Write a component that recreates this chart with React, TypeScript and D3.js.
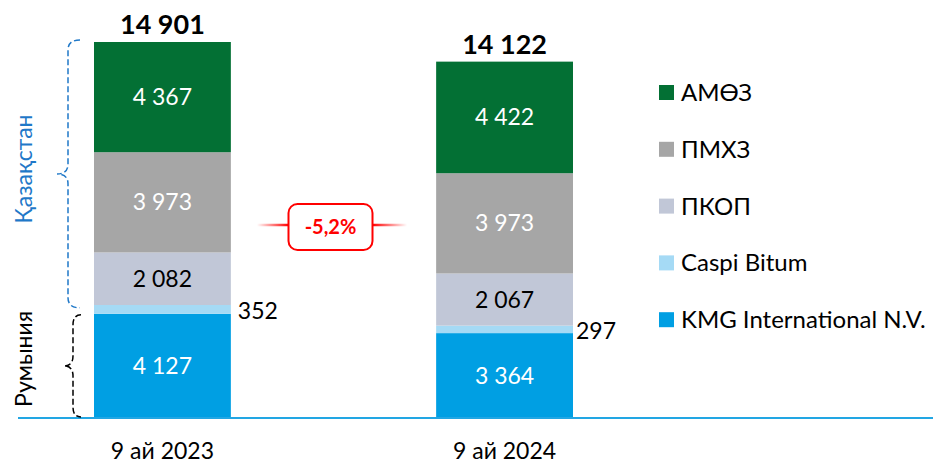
import * as d3 from "d3";

const periods = ["9 ай 2023", "9 ай 2024"];
const seriesNames = ["KMG International N.V.", "Caspi Bitum", "ПКОП", "ПМХЗ", "АМӨЗ"];
const seriesColors = ["#009fe3", "#a5daf5", "#c1c7d7", "#a6a6a6", "#037034"];
const kmgValues = [4127, 3364];
const caspiValues = [352, 297];
const pkopValues = [2082, 2067];
const pmhzValues = [3973, 3973];
const amozValues = [4367, 4422];
const totalValues = [14901, 14122];
const changeLabel = "-5,2%";

const W = 933;
const H = 465;
const baseY = 418;
const FONT = "Lato, 'Noto Sans', sans-serif";

const fmt = (v: number) => d3.format(",")(v).replace(/,/g, " ");

function brace(xEnd: number, xv: number, xTip: number, y0: number, y1: number) {
  const r = 10;
  const ym = (y0 + y1) / 2;
  return `M${xEnd},${y0} Q${xv},${y0} ${xv},${y0 + r} L${xv},${ym - r} Q${xv},${ym} ${xTip},${ym} Q${xv},${ym} ${xv},${ym + r} L${xv},${y1 - r} Q${xv},${y1} ${xEnd},${y1}`;
}

export default function App() {
  const rows = periods.map((p, i) => ({
    period: p,
    [seriesNames[0]]: kmgValues[i],
    [seriesNames[1]]: caspiValues[i],
    [seriesNames[2]]: pkopValues[i],
    [seriesNames[3]]: pmhzValues[i],
    [seriesNames[4]]: amozValues[i],
  }));
  const stacked = d3.stack<any>().keys(seriesNames)(rows);
  const tops = rows.map((_, i) => stacked[stacked.length - 1][i][1]);

  const x = d3.scaleBand().domain(periods).range([94, 573]).paddingInner(0.6).paddingOuter(0);
  const y = d3.scaleLinear().domain([0, d3.max(tops) as number]).range([baseY, 42]);
  const bw = x.bandwidth();

  const x1 = (x(periods[0]) as number) + bw;
  const x2 = x(periods[1]) as number;
  const midX = (x1 + x2) / 2 - 3;
  const badgeY = 227;

  // brace extents from the first bar
  const kzTop = y(tops[0]) - 2;
  const kzBottom = y(kmgValues[0]) - 6;
  const roTop = y(kmgValues[0]) + 1;
  const roBottom = baseY - 1;

  return (
    <svg width={W} height={H} style={{ position: "absolute", left: 0, top: 0 }} fontFamily={FONT}>
      <defs>
        <linearGradient id="gl" gradientUnits="userSpaceOnUse" x1={257} x2={midX - 42} y1={0} y2={0}>
          <stop offset="0" stopColor="#ff0000" stopOpacity={0} />
          <stop offset="1" stopColor="#ff0000" stopOpacity={1} />
        </linearGradient>
        <linearGradient id="gr" gradientUnits="userSpaceOnUse" x1={midX + 42} x2={407} y1={0} y2={0}>
          <stop offset="0" stopColor="#ff0000" stopOpacity={1} />
          <stop offset="1" stopColor="#ff0000" stopOpacity={0} />
        </linearGradient>
      </defs>
      <rect width={W} height={H} fill="#fff" />

      {stacked.map((s, si) =>
        s.map((d, i) => (
          <rect
            key={`${si}-${i}`}
            x={x(periods[i])}
            y={y(d[1])}
            width={bw}
            height={y(d[0]) - y(d[1])}
            fill={seriesColors[si]}
          />
        ))
      )}

      {/* segment labels */}
      {stacked.map((s, si) =>
        s.map((d, i) => {
          const v = d[1] - d[0];
          const cy = (y(d[0]) + y(d[1])) / 2;
          if (si === 1) {
            return (
              <text key={`l${si}-${i}`} x={(x(periods[i]) as number) + bw + (i === 0 ? 7 : 3)} y={cy + 2} dy="0.35em" fontSize={23} fill="#000">
                {fmt(v)}
              </text>
            );
          }
          return (
            <text
              key={`l${si}-${i}`}
              x={(x(periods[i]) as number) + bw / 2}
              y={cy}
              dy="0.35em"
              textAnchor="middle"
              fontSize={23}
              fill={si === 2 ? "#000" : "#fff"}
            >
              {fmt(v)}
            </text>
          );
        })
      )}

      {/* totals */}
      {totalValues.map((t, i) => (
        <text key={`t${i}`} x={(x(periods[i]) as number) + bw / 2} y={y(tops[i]) - 8} textAnchor="middle" fontSize={27} fontWeight="bold" fill="#000">
          {fmt(t)}
        </text>
      ))}

      {/* baseline */}
      <line x1={18} x2={W} y1={baseY} y2={baseY} stroke="#22a6e3" strokeWidth={2} />

      {/* category labels */}
      {periods.map((p) => (
        <text key={p} x={(x(p) as number) + bw / 2} y={459} textAnchor="middle" fontSize={23} fill="#000">
          {p}
        </text>
      ))}

      {/* change badge */}
      <line x1={257} x2={midX - 42} y1={badgeY - 2} y2={badgeY - 2} stroke="url(#gl)" strokeWidth={2.5} />
      <line x1={midX + 42} x2={407} y1={badgeY - 2} y2={badgeY - 2} stroke="url(#gr)" strokeWidth={2.5} />
      <rect x={midX - 42} y={badgeY - 23} width={84} height={46} rx={9} fill="#fff" stroke="#ff0000" strokeWidth={2} />
      <text x={midX} y={badgeY} dy="0.35em" textAnchor="middle" fontSize={20} fontWeight="bold" fill="#ff0000">
        {changeLabel}
      </text>

      {/* braces */}
      <path d={brace(80, 68, 57, kzTop, kzBottom)} fill="none" stroke="#1f78c8" strokeWidth={1.5} strokeDasharray="6 3" />
      <path d={brace(81, 73, 64, roTop, roBottom)} fill="none" stroke="#000" strokeWidth={1.5} strokeDasharray="6 3" />
      <text transform={`translate(32,${(kzTop + kzBottom) / 2 - 5}) rotate(-90)`} textAnchor="middle" fontSize={23} fill="#1f78c8">
        Қазақстан
      </text>
      <text transform={`translate(32,${(roTop + roBottom) / 2 - 7}) rotate(-90)`} textAnchor="middle" fontSize={23} fill="#000">
        Румыния
      </text>

      {/* legend */}
      {seriesNames
        .slice()
        .reverse()
        .map((name, i) => {
          const cy = 92.5 + i * 56.8;
          const ci = seriesNames.indexOf(name);
          return (
            <g key={name}>
              <rect x={659} y={cy - 7.5} width={15} height={15} fill={seriesColors[ci]} />
              <text x={681} y={cy} dy="0.35em" fontSize={24} fill="#000">
                {name}
              </text>
            </g>
          );
        })}
    </svg>
  );
}
